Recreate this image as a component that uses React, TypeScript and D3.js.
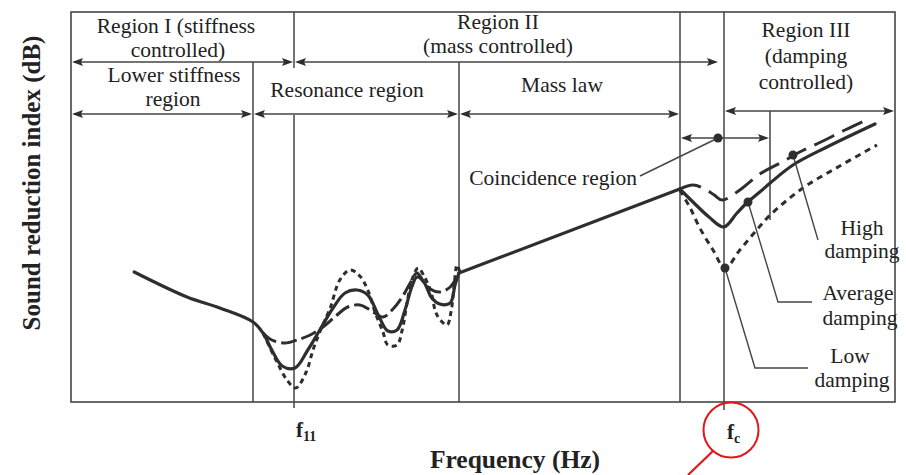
import React from 'react';
import * as d3 from 'd3';

const W = 906;
const H = 475;

// x: relative frequency units, y: relative sound reduction (dB)
type P = [number, number];

const averageLowFreq: P[] = [
  [7.9, 26], [14.5, 21], [18.6, 18.8], [22.75, 16], [24, 13.8], [25.1, 10.4], [26.4, 7.2],
  [28, 6.8], [29.6, 10.4], [31.1, 14.4], [32.75, 18.8], [34.25, 21.8], [35.75, 22.4],
  [37.1, 21.4], [38.4, 17.4], [39.6, 14.2], [40.75, 14.4], [41.75, 18.4], [42.6, 23],
  [43.25, 25], [44.1, 24], [45.1, 20.8], [46.1, 19.6], [47.4, 19.8], [48, 23.4], [48.5, 25.8],
];
const massLaw: P[] = [[48.5, 25.8], [76.1, 42.6]];
const averageCoincidence: P[] = [
  [76.1, 42.6], [77.75, 40], [79.75, 37], [81.6, 35], [83.25, 37.8], [84.6, 40], [86.1, 42],
  [87.4, 43.8], [90.25, 47.4], [94.5, 51], [100.5, 55.6],
];
const lowResonance: P[] = [
  [24, 13.8], [25.5, 8.8], [27, 4.4], [28.1, 2.8], [29.4, 6], [30.25, 10.4], [31.1, 14],
  [32.4, 18.8], [33.6, 24.4], [34.9, 26.4], [36.1, 25.2], [37.1, 22.4], [38, 18], [39, 14],
  [39.6, 11.4], [40.75, 11.4], [41.4, 14.4], [42, 19.8], [42.6, 24.4], [43.4, 26.8],
  [44.25, 24.8], [45, 22], [45.75, 17.4], [47, 15.4], [47.5, 18], [47.9, 23.4], [48.25, 27.4], [48.6, 26],
];
const lowCoincidence: P[] = [
  [76.1, 42.4], [77.4, 38.8], [78.6, 34.8], [80.25, 30.4], [81.75, 26.8], [83.6, 30.4],
  [85.5, 34], [87.4, 37.4], [91.5, 42.8], [96.1, 47.2], [100.75, 51.4],
];
const highResonance: P[] = [
  [24, 13.8], [25.1, 12.4], [26.75, 11.8], [28.25, 12.4], [29.9, 13.4], [31.5, 15], [33.1, 17.2],
  [34.6, 19], [36.1, 19.4], [37.6, 18.2], [39, 17], [40.25, 18.6], [41.4, 21], [42.4, 23.8],
  [43.25, 25.8], [44.1, 24], [44.9, 22.6], [46.1, 22], [47.4, 23], [48.5, 25.8],
];
const highCoincidence: P[] = [
  [76.1, 42.6], [77.75, 43.4], [79.25, 42.6], [80.4, 41.4], [81.4, 40.4], [83.6, 42.4],
  [86.1, 45.6], [88.9, 48], [91.1, 50], [94, 52.2], [96.75, 54.4], [99.4, 56.4],
];

// region boundaries (frequency units) and their vertical extents (dB units)
const dividers = [
  { f: 22.75, y0: 0, y1: 68 },
  { f: 27.875, y0: -1.2, y1: 57.4 },
  { f: 27.875, y0: 66.8, y1: 78 },
  { f: 48.5, y0: 0, y1: 68 },
  { f: 76.125, y0: 0, y1: 78 },
  { f: 81.625, y0: -1.6, y1: 78 },
  { f: 87.375, y0: 36.4, y1: 58.2 },
];
const rangeArrows = [
  { from: 0, to: 27.875, level: 68 },
  { from: 27.875, to: 81.0, level: 68 },
  { from: 81.625, to: 103, level: 58.2 },
  { from: 0, to: 22.75, level: 57.6 },
  { from: 22.75, to: 48.5, level: 57.6 },
  { from: 48.5, to: 76.125, level: 57.6 },
  { from: 76.125, to: 87.375, level: 52.8 },
];
const leaders: { pts: P[]; dot: boolean }[] = [
  { pts: [[80.875, 52.8], [71.125, 45.2]], dot: true },
  { pts: [[90.25, 49.4], [93.375, 32.4]], dot: true },
  { pts: [[84.625, 40], [88.375, 20], [92.625, 20]], dot: true },
  { pts: [[81.75, 26.8], [85.5, 6.8], [92.125, 6.8]], dot: true },
];

const labels: { t: string; x: number; y: number; a?: string }[] = [
  { t: 'Region I (stiffness', x: 176, y: 33 },
  { t: 'controlled)', x: 178, y: 57 },
  { t: 'Region II', x: 498, y: 29 },
  { t: '(mass controlled)', x: 498, y: 53 },
  { t: 'Lower stiffness', x: 174, y: 82 },
  { t: 'region', x: 173, y: 106 },
  { t: 'Resonance region', x: 347, y: 97 },
  { t: 'Mass law', x: 562, y: 92 },
  { t: 'Region III', x: 806, y: 37 },
  { t: '(damping', x: 806, y: 63 },
  { t: 'controlled)', x: 806, y: 89 },
  { t: 'Coincidence region', x: 637, y: 185, a: 'end' },
  { t: 'High', x: 862, y: 235 },
  { t: 'damping', x: 862, y: 258 },
  { t: 'Average', x: 858, y: 300 },
  { t: 'damping', x: 860, y: 325 },
  { t: 'Low', x: 850, y: 363 },
  { t: 'damping', x: 852, y: 387 },
];

const x = d3.scaleLinear().domain([0, 103]).range([71, 895]);
const y = d3.scaleLinear().domain([0, 78]).range([402, 12]);

const smooth = d3.line<P>().x((d) => x(d[0])).y((d) => y(d[1])).curve(d3.curveCatmullRom.alpha(0.5));
const straight = d3.line<P>().x((d) => x(d[0])).y((d) => y(d[1]));

const INK = '#2e2e2e';
const FRAME = '#454545';
const SERIF = '"Liberation Serif", "Times New Roman", serif';

function DoubleArrow({ x1, x2, yy }: { x1: number; x2: number; yy: number }) {
  const L = 11;
  const h = 4;
  return (
    <g>
      <line x1={x1 + 2} x2={x2 - 2} y1={yy} y2={yy} stroke={FRAME} strokeWidth={1.6} />
      <path d={`M${x1},${yy} L${x1 + L},${yy - h} L${x1 + L - 2},${yy} L${x1 + L},${yy + h} Z`} fill={INK} />
      <path d={`M${x2},${yy} L${x2 - L},${yy - h} L${x2 - L + 2},${yy} L${x2 - L},${yy + h} Z`} fill={INK} />
    </g>
  );
}

export default function App() {
  return (
    <svg width={W} height={H} style={{ position: 'absolute', left: 0, top: 0, background: '#fff' }}>
      <rect x={0} y={0} width={W} height={H} fill="#fff" />
      {/* frame */}
      <rect x={x(0)} y={y(78)} width={x(103) - x(0)} height={y(0) - y(78)} fill="none" stroke={FRAME} strokeWidth={1.6} />
      {dividers.map((d, i) => (
        <line key={i} x1={x(d.f)} x2={x(d.f)} y1={y(d.y0)} y2={y(d.y1)} stroke={FRAME} strokeWidth={1.5} />
      ))}
      {rangeArrows.map((a, i) => (
        <DoubleArrow key={i} x1={x(a.from) + 1} x2={x(a.to) - 1} yy={y(a.level)} />
      ))}
      {/* curves */}
      <path d={smooth(highResonance) || ''} fill="none" stroke={INK} strokeWidth={3} strokeDasharray="16 5" />
      <path d={smooth(highCoincidence) || ''} fill="none" stroke={INK} strokeWidth={3} strokeDasharray="22 9" />
      <path d={smooth(lowResonance) || ''} fill="none" stroke={INK} strokeWidth={3} strokeDasharray="5 4" />
      <path d={smooth(lowCoincidence) || ''} fill="none" stroke={INK} strokeWidth={3} strokeDasharray="6 5" />
      <path d={smooth(averageLowFreq) || ''} fill="none" stroke={INK} strokeWidth={3.2} strokeLinejoin="round" strokeLinecap="round" />
      <path d={straight(massLaw) || ''} fill="none" stroke={INK} strokeWidth={3.2} strokeLinecap="round" />
      <path d={smooth(averageCoincidence) || ''} fill="none" stroke={INK} strokeWidth={3.2} strokeLinejoin="round" strokeLinecap="round" />
      {/* leaders */}
      {leaders.map((l, i) => (
        <g key={i}>
          <path d={straight(l.pts) || ''} fill="none" stroke={FRAME} strokeWidth={1.4} />
          {l.dot && <circle cx={x(l.pts[0][0])} cy={y(l.pts[0][1])} r={4.5} fill={INK} />}
        </g>
      ))}
      {/* labels */}
      {labels.map((l, i) => (
        <text key={i} x={l.x} y={l.y} textAnchor={(l.a as any) || 'middle'} fontFamily={SERIF} fontSize={21.5} fill="#222">
          {l.t}
        </text>
      ))}
      <text transform="translate(40,183) rotate(-90)" textAnchor="middle" fontFamily={SERIF} fontWeight="bold" fontSize={25} fill="#222">
        Sound reduction index (dB)
      </text>
      <text x={515} y={468} textAnchor="middle" fontFamily={SERIF} fontWeight="bold" fontSize={25.5} fill="#222">
        Frequency (Hz)
      </text>
      <text x={296} y={437} fontFamily={SERIF} fontWeight="bold" fontSize={21} fill="#222">
        f<tspan fontSize={14} dy={4}>11</tspan>
      </text>
      <text x={727} y={439} fontFamily={SERIF} fontWeight="bold" fontSize={21} fill="#222">
        f<tspan fontSize={14} dy={4}>c</tspan>
      </text>
      <circle cx={731} cy={430} r={27.5} fill="none" stroke="#e3161b" strokeWidth={2} />
      <line x1={713} y1={451} x2={688} y2={475} stroke="#e3161b" strokeWidth={2.2} />
    </svg>
  );
}
